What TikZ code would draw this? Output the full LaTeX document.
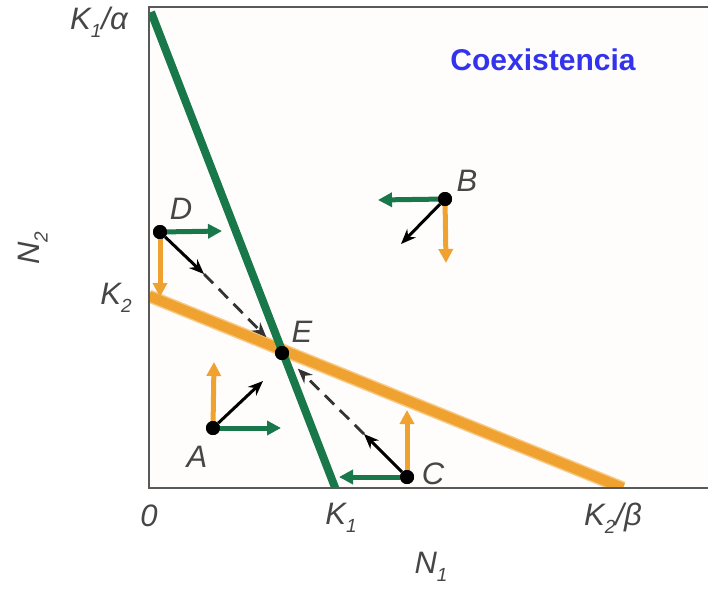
\documentclass[tikz,border=0pt]{standalone}
\usepackage{fontspec}
\setmainfont{Liberation Sans}
\usetikzlibrary{arrows.meta}
\definecolor{grn}{RGB}{24,120,74}
\definecolor{org}{RGB}{240,162,48}
\definecolor{orglt}{RGB}{248,200,130}
\definecolor{blu}{RGB}{51,51,238}
\definecolor{txt}{RGB}{70,70,70}
\definecolor{bg}{RGB}{254,253,252}
\newcommand{\lowidx}[1]{\raisebox{-0.25em}{\fontsize{19}{19}\selectfont #1}}
\tikzset{
  lbl/.style={font=\fontsize{31}{31}\selectfont\itshape, text=txt, inner sep=0pt},
  dot/.style={circle, fill=black, minimum size=14pt, inner sep=0pt},
  garrow/.style={draw=grn, line width=5pt, -{Triangle[length=14pt,width=14pt]}},
  oarrow/.style={draw=org, line width=5pt, -{Triangle[length=14pt,width=14pt]}},
  karrow/.style={draw=black, line width=3pt, -{Stealth[length=15pt,width=12pt]}},
  dasharrow/.style={draw=black!80, line width=2.8pt, dash pattern=on 13pt off 8pt, -{Stealth[length=15pt,width=12pt]}, shorten >=15pt},
  isocline/.style={line width=8pt}
}
\begin{document}
\begin{tikzpicture}[x=1pt,y=-1pt]
\useasboundingbox (0,0) rectangle (708,590);
% plot area
\fill[bg] (149,7) rectangle (708,488);
\begin{scope}
\clip (149,7) rectangle (708,488);
\draw[orglt, line width=13pt] (149,296) -- (623,488);
\draw[org, line width=10pt] (149,296) -- (623,488);
\draw[grn, isocline] (151,12) -- (336,490);
\end{scope}
\draw[gray!70!black, line width=1.4pt] (708,7) -- (149,7) -- (149,488) -- (708,488);

% equilibrium point and state points
\node[dot] (E) at (282,353) {};
\node[dot] (D) at (160,232) {};
\node[dot] (B) at (445,199) {};
\node[dot] (A) at (213,428) {};
\node[dot] (C) at (407,477) {};

% arrow end coordinates
\coordinate (Dg) at (222,231);
\coordinate (Do) at (160,297);
\coordinate (Dk) at (204,274);
\coordinate (Bg) at (378,200);
\coordinate (Bo) at (446,263);
\coordinate (Bk) at (401,244);
\coordinate (Ag) at (281,428);
\coordinate (Ao) at (214,362);
\coordinate (Ak) at (263,381);
\coordinate (Cg) at (339,477);
\coordinate (Co) at (407,410);
\coordinate (Ck) at (364,434);

% arrows
\draw[oarrow] (D) -- (Do);
\draw[garrow] (D) -- (Dg);
\draw[karrow] (D) -- (Dk);
\draw[dasharrow] (Dk) -- (E);

\draw[oarrow] (B) -- (Bo);
\draw[garrow] (B) -- (Bg);
\draw[karrow] (B) -- (Bk);

\draw[oarrow] (A) -- (Ao);
\draw[garrow] (A) -- (Ag);
\draw[karrow] (A) -- (Ak);

\draw[oarrow] (C) -- (Co);
\draw[garrow] (C) -- (Cg);
\draw[karrow] (C) -- (Ck);
\draw[dasharrow] (Ck) -- (E);

% redraw dots on top
\foreach \p in {E,D,B,A,C} \fill[black] (\p) circle (7pt);

% point labels
\node[lbl] (lD) at (181,209) {D};
\node[lbl] (lE) at (302,332) {E};
\node[lbl] (lB) at (467,181) {B};
\node[lbl] (lA) at (197,457) {A};
\node[lbl] (lC) at (433,474) {C};

% axis labels
\node[lbl] (k1a) at (99,22) {K\lowidx{1}/α};
\node[lbl] (k2) at (116,298) {K\lowidx{2}};
\node[lbl] (zero) at (149,516) {0};
\node[lbl] (k1) at (341,518) {K\lowidx{1}};
\node[lbl] (k2b) at (613,518) {K\lowidx{2}/β};
\node[lbl] (n1) at (431,567) {N\lowidx{1}};
\node[lbl, rotate=90] (n2) at (33,248) {N\lowidx{2}};

% title
\node[font=\fontsize{30}{30}\selectfont\bfseries, text=blu, inner sep=0pt] (title) at (543,60) {Coexistencia};
\end{tikzpicture}
\end{document}
